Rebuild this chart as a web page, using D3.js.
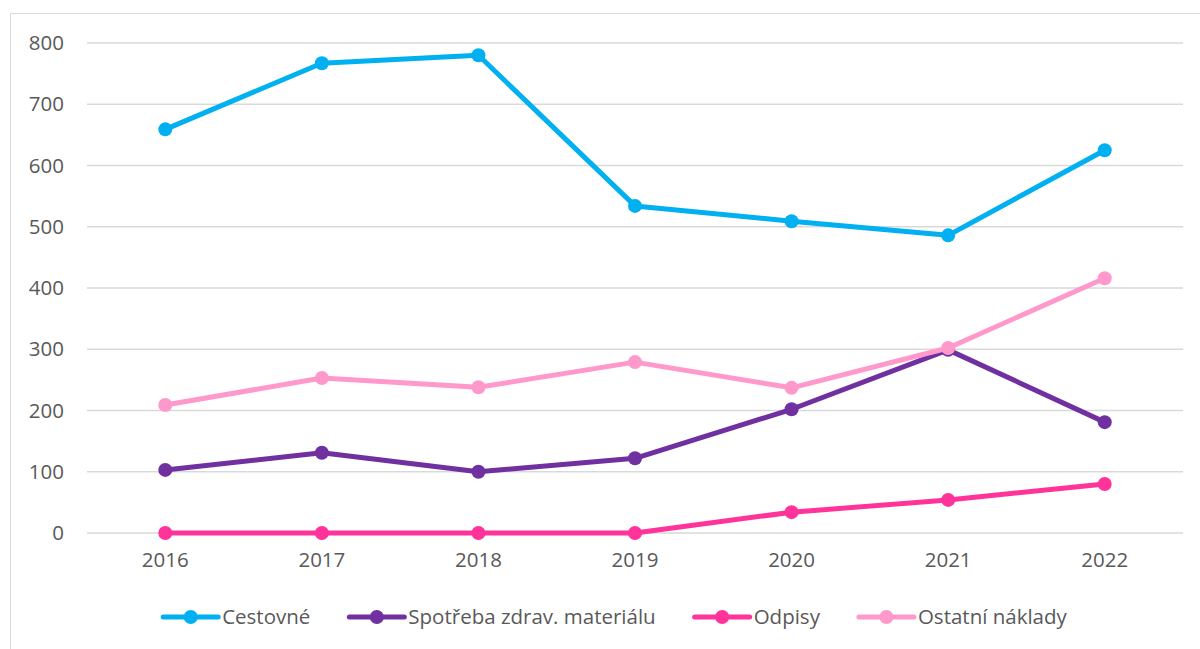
<!DOCTYPE html>
<html>
<head>
<meta charset="utf-8">
<script src="https://cdn.jsdelivr.net/npm/d3@7"></script>
<style>
  body { margin: 0; background: #fff; }
  svg { display: block; font-family: "Open Sans", sans-serif; }
</style>
</head>
<body>
<svg id="chart" width="1200" height="649"></svg>
<script>
// data
const years = ["2016", "2017", "2018", "2019", "2020", "2021", "2022"];
const seriesNames = ["Cestovné", "Spotřeba zdrav. materiálu", "Odpisy", "Ostatní náklady"];
const cestovne = [659, 767, 780, 534, 509, 486, 625];
const spotreba = [103, 131, 100, 122, 202, 299, 181];
const odpisy = [0, 0, 0, 0, 34, 54, 80];
const ostatni = [209, 253, 238, 279, 237, 302, 416];
const yTicks = [0, 100, 200, 300, 400, 500, 600, 700, 800];
const colors = ["#00B0F0", "#7030A0", "#FF3399", "#FF99CC"];

const series = [cestovne, spotreba, odpisy, ostatni].map((vals, i) => ({
  name: seriesNames[i],
  color: colors[i],
  values: vals.map((v, j) => ({ year: years[j], value: v }))
}));

const svg = d3.select("#chart");
const width = 1200, height = 649;

const margin = { left: 87, right: 17, top: 43, bottom: 116 };
const innerWidth = width - margin.left - margin.right;
const innerHeight = height - margin.top - margin.bottom;
const fontSize = "20.5px";

// outer chart border (runs off the right and bottom edges, as in the source)
svg.append("path")
   .attr("d", `M10.5,${height} V13.5 H${width}`)
   .attr("fill", "none")
   .attr("stroke", "#d9d9d9")
   .attr("stroke-width", 1);

const xScale = d3.scaleBand()
                 .domain(years)
                 .range([0, innerWidth]);
const yScale = d3.scaleLinear()
                 .domain([0, 800])
                 .range([innerHeight, 0]);

const g = svg.append("g")
             .attr("transform", `translate(${margin.left}, ${margin.top})`);

// gridlines
g.append("g")
 .selectAll("line")
 .data(yTicks)
 .enter()
 .append("line")
 .attr("x1", 0).attr("x2", innerWidth)
 .attr("y1", d => yScale(d)).attr("y2", d => yScale(d))
 .attr("stroke", "#d9d9d9")
 .attr("stroke-width", 1.3);

// y axis labels
const yAxis = g.append("g")
               .call(d3.axisLeft(yScale).tickValues(yTicks).tickSize(0).tickPadding(23));
yAxis.select(".domain").remove();
yAxis.selectAll("text")
     .attr("fill", "#595959")
     .style("font-size", fontSize)
     .style("font-family", "Open Sans, sans-serif");

// x axis labels
const xAxis = g.append("g")
               .attr("transform", `translate(0, ${innerHeight})`)
               .call(d3.axisBottom(xScale).tickSize(0).tickPadding(19));
xAxis.select(".domain").remove();
xAxis.selectAll("text")
     .attr("fill", "#595959")
     .style("font-size", fontSize)
     .style("font-family", "Open Sans, sans-serif");

const line = d3.line()
               .x(d => xScale(d.year) + xScale.bandwidth() / 2)
               .y(d => yScale(d.value));

const sg = g.selectAll(".series")
            .data(series)
            .enter()
            .append("g")
            .attr("class", "series");

sg.append("path")
  .attr("d", d => line(d.values))
  .attr("fill", "none")
  .attr("stroke", d => d.color)
  .attr("stroke-width", 5)
  .attr("stroke-linejoin", "round")
  .attr("stroke-linecap", "round");

sg.selectAll("circle")
  .data(d => d.values.map(v => ({ ...v, color: d.color })))
  .enter()
  .append("circle")
  .attr("cx", d => xScale(d.year) + xScale.bandwidth() / 2)
  .attr("cy", d => yScale(d.value))
  .attr("r", 7)
  .attr("fill", d => d.color);

// legend
const legend = svg.append("g").attr("transform", "translate(0, 617)");
const symW = 55, textGap = 4, itemGap = 39;
const items = legend.selectAll(".item")
                    .data(series)
                    .enter()
                    .append("g")
                    .attr("class", "item");
items.append("line")
     .attr("x1", 0).attr("x2", symW)
     .attr("y1", 0).attr("y2", 0)
     .attr("stroke", d => d.color)
     .attr("stroke-width", 5)
     .attr("stroke-linecap", "round");
items.append("circle")
     .attr("cx", symW / 2).attr("cy", 0)
     .attr("r", 7)
     .attr("fill", d => d.color);
items.append("text")
     .attr("x", symW + textGap)
     .attr("y", 0)
     .attr("dy", "0.35em")
     .attr("fill", "#595959")
     .style("font-size", fontSize)
     .text(d => d.name);

let widths = [];
items.each(function() {
  widths.push(symW + textGap + this.querySelector("text").getComputedTextLength());
});
const total = d3.sum(widths) + itemGap * (widths.length - 1);
let xPos = 615 - total / 2;
items.attr("transform", (d, i) => {
  const t = `translate(${xPos}, 0)`;
  xPos += widths[i] + itemGap;
  return t;
});
</script>
</body>
</html>
